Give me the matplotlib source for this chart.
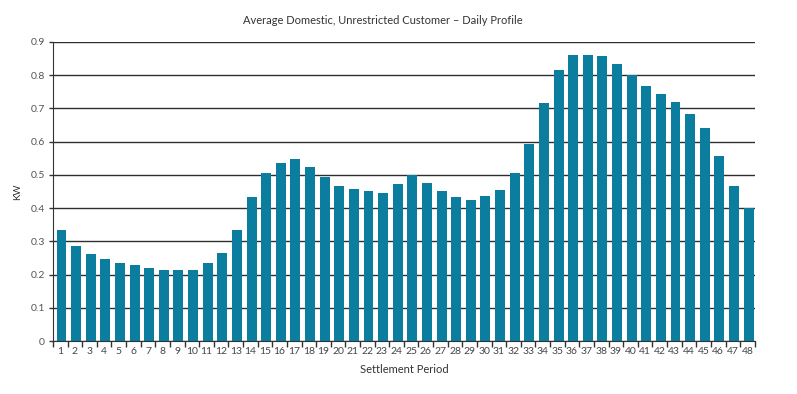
import numpy as np
from matplotlib import pyplot as plt
from matplotlib.ticker import FixedLocator, FuncFormatter

periods = list(range(1, 49))
kw = [0.335, 0.285, 0.262, 0.247, 0.236, 0.228, 0.220, 0.213, 0.213, 0.213,
      0.236, 0.266, 0.335, 0.432, 0.505, 0.535, 0.547, 0.523, 0.494, 0.468,
      0.457, 0.450, 0.445, 0.472, 0.500, 0.475, 0.450, 0.432, 0.423, 0.435,
      0.455, 0.505, 0.592, 0.715, 0.817, 0.862, 0.862, 0.858, 0.835, 0.800,
      0.768, 0.742, 0.720, 0.682, 0.640, 0.558, 0.465, 0.400]
yticks = [0, 0.1, 0.2, 0.3, 0.4, 0.5, 0.6, 0.7, 0.8, 0.9]

plt.rcParams['font.family'] = ['Lato', 'DejaVu Sans']

fig = plt.figure(figsize=(7.97, 3.94), dpi=100)
ax = fig.add_axes([0.0665, 0.1345, 0.8805, 0.759])

ax.bar([p + 0.08 for p in periods], kw, width=0.68, color='#0b7e9f', zorder=3)

ax.set_xlim(0.5, 48.5)
ax.set_ylim(0, 0.9)
ax.set_yticks(yticks)
ax.yaxis.set_major_formatter(FuncFormatter(lambda v, p: '0' if v == 0 else '%.1f' % v))
ax.set_xticks(periods)
ax.set_xticklabels([str(p) for p in periods])
ax.xaxis.set_minor_locator(FixedLocator(np.arange(0.5, 49, 1)))
ax.tick_params(axis='x', which='major', length=0, labelsize=7.5, colors='#444444', pad=4)
ax.tick_params(axis='x', which='minor', length=4, width=1, color='#333333')
ax.tick_params(axis='y', length=3, width=1, color='#333333', labelsize=7.5, labelcolor='#555555', pad=3)

ax.grid(axis='y', color='#2e2e2e', linewidth=1, zorder=1)
for s in ['top', 'right']:
    ax.spines[s].set_visible(False)
ax.spines['left'].set_color('#333333')
ax.spines['bottom'].set_color('#333333')
ax.spines['bottom'].set_zorder(4)

ax.set_ylabel('KW', fontsize=7, color='#333333', labelpad=6)
ax.set_xlabel('Settlement Period', fontsize=8, color='#333333', labelpad=6)
fig.text(0.48, 0.948, 'Average Domestic, Unrestricted Customer \u2013 Daily Profile',
         ha='center', va='center', fontsize=8, color='#333333')

fig.savefig('out.png', dpi=100)
